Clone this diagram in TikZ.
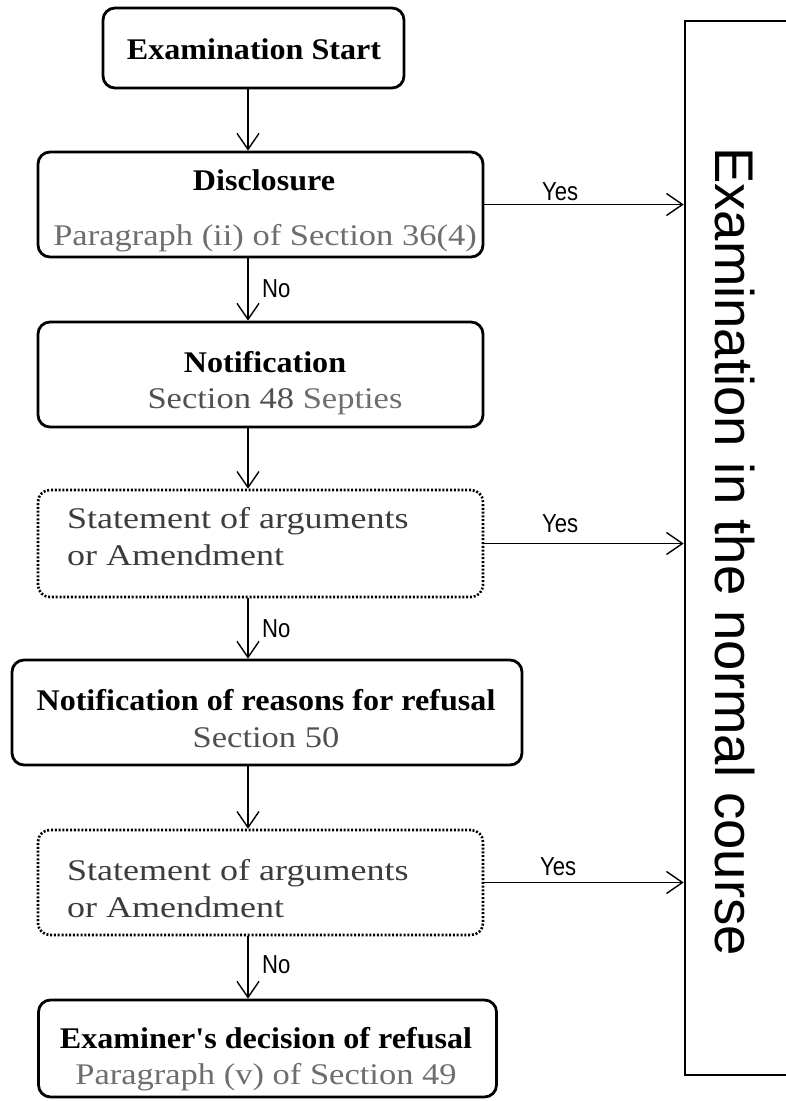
\documentclass[tikz,border=0pt]{standalone}
\usepackage{fontspec}
\setmainfont{Liberation Serif}
\newfontfamily\tbfont[FakeStretch=1.07]{Liberation Serif}
\newfontfamily\subfont[FakeStretch=1.15]{Liberation Serif}
\newfontfamily\stmfont[FakeStretch=1.2]{Liberation Serif}
\newfontfamily\ynfont[FakeStretch=0.85]{Liberation Sans}
\newfontfamily\bigsans{Liberation Sans}
\usetikzlibrary{arrows.meta}
\definecolor{subgray}{HTML}{6E6E6E}
\definecolor{darkgray}{HTML}{505050}
\definecolor{stmtgray}{HTML}{3C3C3C}
\tikzset{
  box/.style={draw, line width=2.8pt, rounded corners=12pt, inner sep=0pt},
  dbox/.style={draw, line width=2.6pt, dash pattern=on 2pt off 1.8pt, rounded corners=12pt, inner sep=0pt},
  arr/.style={line width=1.4pt, -{Straight Barb[length=16pt,width=22pt,line width=1.4pt]}},
  tb/.style={font=\tbfont\bfseries\fontsize{30}{36}\selectfont, inner sep=0pt, anchor=base},
  sub/.style={font=\subfont\fontsize{30}{36}\selectfont, text=subgray, inner sep=0pt, anchor=base},
  stm/.style={font=\stmfont\fontsize{30}{36}\selectfont, text=stmtgray, inner sep=0pt, anchor=base west},
  yn/.style={font=\ynfont\fontsize{26}{30}\selectfont, inner sep=0pt, anchor=base west},
}
\begin{document}
\begin{tikzpicture}[x=1pt,y=-1pt]
\useasboundingbox (0,0) rectangle (786,1101);
% boxes
\node[box, minimum width=301pt, minimum height=80pt] (start) at (253.5,48) {};
\node[box, minimum width=445pt, minimum height=105pt] (disc) at (260.5,204.5) {};
\node[box, minimum width=445pt, minimum height=105pt] (notif) at (260.5,374.5) {};
\node[dbox, minimum width=445pt, minimum height=107pt] (stmt1) at (260.5,543.5) {};
\node[box, minimum width=510pt, minimum height=105pt] (reas) at (267,712.5) {};
\node[dbox, minimum width=445pt, minimum height=105pt] (stmt2) at (260.5,882.5) {};
\node[box, minimum width=458pt, minimum height=97pt] (exam) at (267.5,1048.5) {};
\node[draw, line width=2.6pt, inner sep=0pt, minimum width=145pt, minimum height=1054pt] (course) at (757.5,548) {};
% texts
\node[tb] (startT) at (254,59) {Examination Start};
\node[tb] (discT) at (264,190) {Disclosure};
\node[sub] (discS) at (265,245) {Paragraph (ii) of Section 36(4)};
\node[tb] (notifT) at (265,372) {Notification};
\node[sub] (notifS) at (275,408) {\textcolor{darkgray}{Section 48} Septies};
\node[stm] (stmt1a) at (67,528) {Statement of arguments};
\node[stm] (stmt1b) at (67,565) {or Amendment};
\node[tb] (reasT) at (266,710) {Notification of reasons for refusal};
\node[sub, text=darkgray] (reasS) at (266,747) {Section 50};
\node[stm] (stmt2a) at (67,880) {Statement of arguments};
\node[stm] (stmt2b) at (67,917) {or Amendment};
\node[tb] (examT) at (266,1048) {Examiner's decision of refusal};
\node[sub] (examS) at (266,1084) {Paragraph (v) of Section 49};
\node[font=\bigsans\fontsize{54.5}{60}\selectfont, rotate=-90, anchor=base west, inner sep=0pt] (courseT) at (715,147) {Examination in the normal course};
% connectors
\coordinate (col) at (248,0);
\draw[arr] (start.south -| col) -- (disc.north -| col);
\draw[arr] (disc.south -| col) -- (notif.north -| col);
\draw[arr] (notif.south -| col) -- (stmt1.north -| col);
\draw[arr] (stmt1.south -| col) -- (reas.north -| col);
\draw[arr] (reas.south -| col) -- (stmt2.north -| col);
\draw[arr] (stmt2.south -| col) -- (exam.north -| col);
\draw[arr] (disc.east) -- (disc.east -| course.west);
\draw[arr] (stmt1.east) -- (stmt1.east -| course.west);
\draw[arr] (stmt2.east) -- (stmt2.east -| course.west);
% labels
\node[yn] (y1) at (542,200) {Yes};
\node[yn] (y2) at (542,532) {Yes};
\node[yn] (y3) at (540,875) {Yes};
\node[yn] (n1) at (262,297) {No};
\node[yn] (n2) at (262,637) {No};
\node[yn] (n3) at (262,973) {No};
\end{tikzpicture}
\end{document}
